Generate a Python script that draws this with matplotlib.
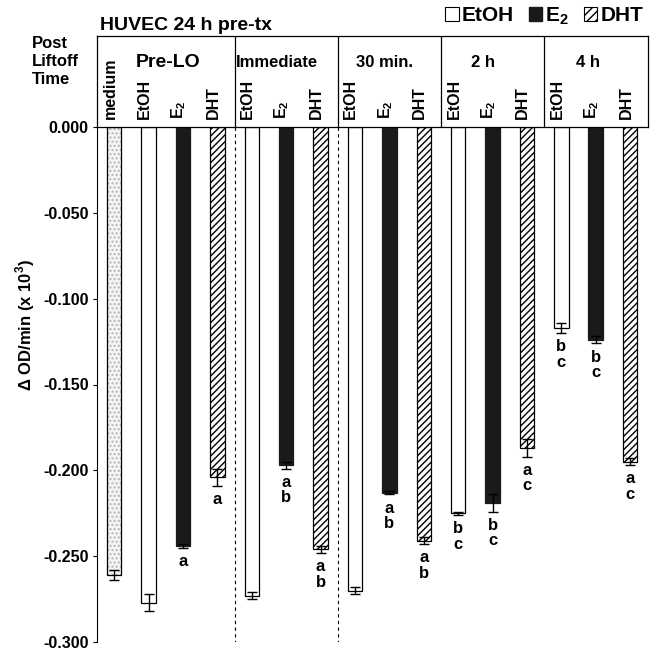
import matplotlib
matplotlib.use("Agg")
import matplotlib.pyplot as plt
from matplotlib.patches import Patch

plt.rcParams["axes.unicode_minus"] = False
plt.rcParams["font.family"] = ["Liberation Sans", "DejaVu Sans"]
plt.rcParams["mathtext.fontset"] = "custom"
plt.rcParams["mathtext.rm"] = "Liberation Sans"
plt.rcParams["mathtext.bf"] = "Liberation Sans:bold"
plt.rcParams["hatch.linewidth"] = 1.0

# -----------------------------
# DATA
# -----------------------------
groups = ["Pre-LO", "Immediate", "30 min.", "2 h", "4 h"]
group_label_x = [1.57, 4.74, 7.85, 10.73, 13.78]

E2 = r"E$_\mathbf{2}$"
bar_labels = ["medium", "EtOH", E2, "DHT",
              "EtOH", E2, "DHT",
              "EtOH", E2, "DHT",
              "EtOH", E2, "DHT",
              "EtOH", E2, "DHT"]
treatments = ["medium", "EtOH", "E2", "DHT",
              "EtOH", "E2", "DHT",
              "EtOH", "E2", "DHT",
              "EtOH", "E2", "DHT",
              "EtOH", "E2", "DHT"]
values = [-0.261, -0.277, -0.244, -0.204,
          -0.273, -0.197, -0.246,
          -0.270, -0.213, -0.241,
          -0.225, -0.219, -0.187,
          -0.117, -0.124, -0.195]
errors = [0.003, 0.005, 0.001, 0.005,
          0.002, 0.002, 0.002,
          0.002, 0.001, 0.002,
          0.001, 0.005, 0.005,
          0.003, 0.002, 0.002]
letters = ["", "", "a", "a",
           "", "a\nb", "a\nb",
           "", "a\nb", "a\nb",
           "b\nc", "b\nc", "a\nc",
           "b\nc", "b\nc", "a\nc"]

yticks = [0.0, -0.05, -0.1, -0.15, -0.2, -0.25, -0.3]

# -----------------------------
# FIGURE
# -----------------------------
W, H = 652, 651
fig = plt.figure(figsize=(W / 100, H / 100), dpi=100)

x_left, x_right = 97, 648
y_top, y_bot, box_top = 127, 642, 36
xlim = (-0.5, 15.52)

ax = fig.add_axes([x_left / W, 1 - y_bot / H, (x_right - x_left) / W, (y_bot - y_top) / H])
hax = fig.add_axes([x_left / W, 1 - y_top / H, (x_right - x_left) / W, (y_top - box_top) / H])

xs = list(range(len(values)))
bw = 0.42

for x, v, t in zip(xs, values, treatments):
    if t == "medium":
        ax.bar(x, v, bw, color="#f4f4f4", edgecolor="#b5b5b5", hatch="....", linewidth=0)
        ax.bar(x, v, bw, color="none", edgecolor="black", linewidth=0.9)
    elif t == "EtOH":
        ax.bar(x, v, bw, color="white", edgecolor="black", linewidth=0.9)
    elif t == "E2":
        ax.bar(x, v, bw, color="#1a1a1a", edgecolor="#1a1a1a", linewidth=0.9)
    else:
        ax.bar(x, v, bw, color="white", edgecolor="black", hatch="/////", linewidth=0.9)

ax.errorbar(xs, values, yerr=errors, fmt="none", ecolor="black",
            elinewidth=1, capsize=3.5, capthick=1)

for x, v, e, s in zip(xs, values, errors, letters):
    if s:
        ax.annotate(s, xy=(x, v - e), xytext=(0, -4.5), textcoords="offset points",
                    ha="center", va="top", fontsize=12, fontweight="bold",
                    linespacing=1.05)

for xd in [3.5, 6.5]:
    ax.plot([xd, xd], [0, -0.3], color="black", linestyle=(0, (3, 3)), linewidth=0.8)

ax.set_xlim(xlim)
ax.set_ylim(-0.3, 0)
ax.set_yticks(yticks)
ax.set_yticklabels([f"{t:.3f}" for t in yticks], fontsize=11.5, fontweight="bold")
ax.tick_params(axis="y", direction="out", length=3, width=0.8, pad=3)
ax.set_xticks([])
for side in ["top", "right", "bottom"]:
    ax.spines[side].set_visible(False)
ax.spines["left"].set_linewidth(0.8)

# -----------------------------
# HEADER BOX
# -----------------------------
hax.set_xlim(xlim)
hax.set_ylim(0, 1)
hax.set_xticks([])
hax.set_yticks([])
for sp in hax.spines.values():
    sp.set_linewidth(0.9)
for xd in [3.5, 6.5, 9.5, 12.5]:
    hax.axvline(xd, color="black", linewidth=0.9)

for g, gx in zip(groups, group_label_x):
    hax.text(gx, 0.714, g, ha="center", va="center", fontweight="bold",
             fontsize=14 if g == "Pre-LO" else 12)

for x, lab in zip(xs, bar_labels):
    hax.text(x - 0.12, 0.09, lab, rotation=90, ha="center", va="bottom",
             fontsize=11.5, fontweight="bold")

# -----------------------------
# TEXTS
# -----------------------------
fig.text(100 / W, 1 - 25 / H, "HUVEC 24 h pre-tx", ha="left", va="center",
         fontsize=14, fontweight="bold")
fig.text(32 / W, 1 - 62 / H, "Post\nLiftoff\nTime", ha="left", va="center",
         fontsize=12, fontweight="bold", linespacing=1.25)
fig.text(25 / W, 1 - 325 / H, r"Δ OD/min (x 10$^\mathbf{3}$)", rotation=90, ha="center",
         va="center", fontsize=12, fontweight="bold")

handles = [Patch(facecolor="white", edgecolor="black", linewidth=0.8),
           Patch(facecolor="#1a1a1a", edgecolor="#1a1a1a"),
           Patch(facecolor="white", edgecolor="black", hatch="////", linewidth=0.8)]
fig.legend(handles, ["EtOH", E2, "DHT"], loc="center right",
           bbox_to_anchor=(643 / W, 1 - 16 / H), ncol=3, frameon=False,
           handlelength=0.65, handleheight=0.65, handletextpad=0.15,
           columnspacing=0.7, borderpad=0, borderaxespad=0,
           prop={"size": 15, "weight": "bold"})

fig.savefig("out.png", dpi=100)
